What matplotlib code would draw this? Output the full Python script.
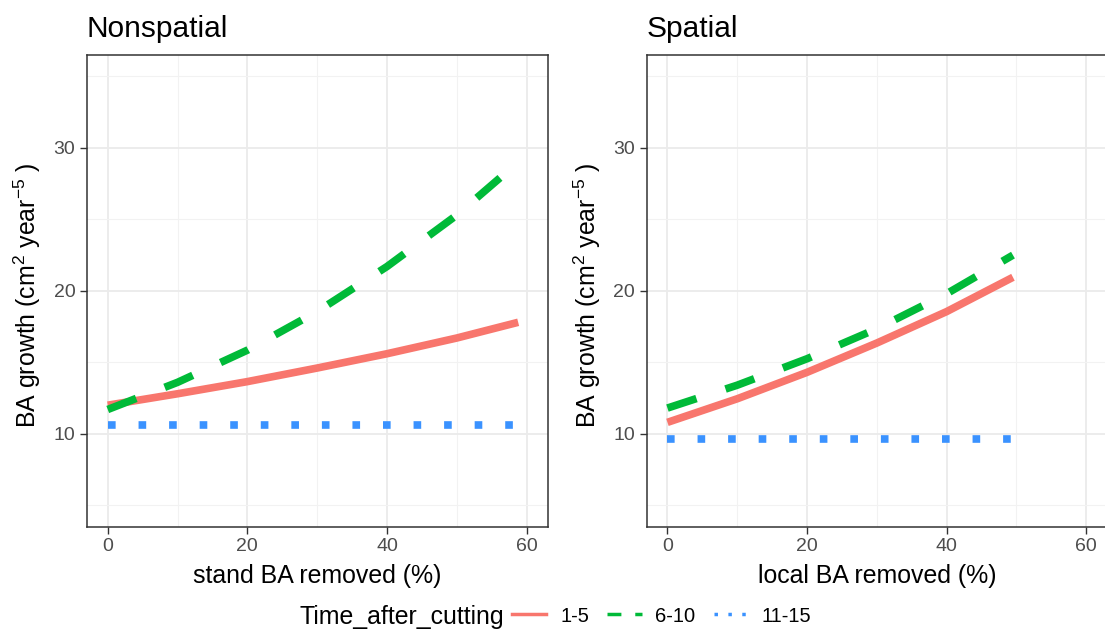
import numpy as np
import matplotlib
matplotlib.use("Agg")
from matplotlib import pyplot as plt
from matplotlib.lines import Line2D

plt.rcParams['font.family'] = ['Liberation Sans', 'DejaVu Sans']
plt.rcParams['mathtext.fontset'] = 'custom'
plt.rcParams['mathtext.rm'] = 'Liberation Sans'
plt.rcParams['mathtext.it'] = 'Liberation Sans:italic'
plt.rcParams['mathtext.bf'] = 'Liberation Sans:bold'

# values
x_nonspatial = [0, 10, 20, 30, 40, 50, 58.8]
ns_1_5 = [12.0, 12.8, 13.65, 14.6, 15.6, 16.7, 17.8]
ns_6_10 = [11.7, 13.6, 15.85, 18.55, 21.7, 25.3, 29.0]
ns_11_15 = [10.63, 10.63, 10.63, 10.63, 10.63, 10.63, 10.63]

x_spatial = [0, 10, 20, 30, 40, 49.5]
sp_1_5 = [10.8, 12.45, 14.3, 16.35, 18.55, 20.95]
sp_6_10 = [11.8, 13.4, 15.25, 17.35, 19.8, 22.5]
sp_11_15 = [9.63, 9.63, 9.63, 9.63, 9.63, 9.63]

groups = ['1-5', '6-10', '11-15']
colors = ['#F8766D', '#00BA38', '#3a92ff']
styles = ['-', (0, (4, 4)), (0, (1, 3))]

panels = [
    ('Nonspatial', 'stand BA removed (%)', x_nonspatial, [ns_1_5, ns_6_10, ns_11_15]),
    ('Spatial', 'local BA removed (%)', x_spatial, [sp_1_5, sp_6_10, sp_11_15]),
]

W, H = 1105, 631
fig = plt.figure(figsize=(W / 100, H / 100), dpi=100)
fig.patch.set_facecolor('white')

lefts = [86.8, 646.5]
for left, (title, xlabel, xs, series) in zip(lefts, panels):
    ax = fig.add_axes([left / W, (H - 526.7) / H, 460.7 / W, 471.7 / H])
    for ys, c, ls in zip(series, colors, styles):
        ax.plot(xs, ys, color=c, lw=5.5, linestyle=ls,
                dash_capstyle='butt', solid_capstyle='butt')
    ax.set_xlim(-3, 63)
    ax.set_ylim(3.5, 36.5)
    ax.set_xticks([0, 20, 40, 60])
    ax.set_xticks([10, 30, 50], minor=True)
    ax.set_yticks([10, 20, 30])
    ax.set_yticks([5, 15, 25, 35], minor=True)
    ax.set_axisbelow(True)
    ax.grid(which='major', color='#ebebeb', lw=1.3)
    ax.grid(which='minor', color='#f2f2f2', lw=0.8)
    for sp in ax.spines.values():
        sp.set_color('#333333')
        sp.set_linewidth(1.1)
    ax.tick_params(which='major', length=4.8, width=1.0, color='#333333',
                   labelcolor='#4d4d4d', labelsize=14, pad=3.5)
    ax.tick_params(which='minor', length=0)
    ax.set_title(title, loc='left', fontsize=21.5, pad=13)
    ax.set_xlabel(xlabel, fontsize=17.9, labelpad=6)
    ax.set_ylabel(r'BA growth (cm$^{2}$ year$^{-5}$ )', fontsize=17.9)
    ax.yaxis.set_label_coords(-0.095, 0.49)

fig.text(299 / W, (H - 624) / H, 'Time_after_cutting', fontsize=17.9,
         ha='left', va='baseline')
handles = [Line2D([], [], color=c, lw=2.5, linestyle=ls, dash_capstyle='butt')
           for c, ls in zip(colors, styles)]
fig.legend(handles, groups, loc='center left', ncol=3,
           bbox_to_anchor=(511.7 / W, (H - 616) / H), frameon=False,
           fontsize=14.5, handlelength=1.72, handletextpad=0.68,
           columnspacing=0.9, borderpad=0, borderaxespad=0)

plt.savefig('out.png', dpi=100)
print("Saved to out.png")
